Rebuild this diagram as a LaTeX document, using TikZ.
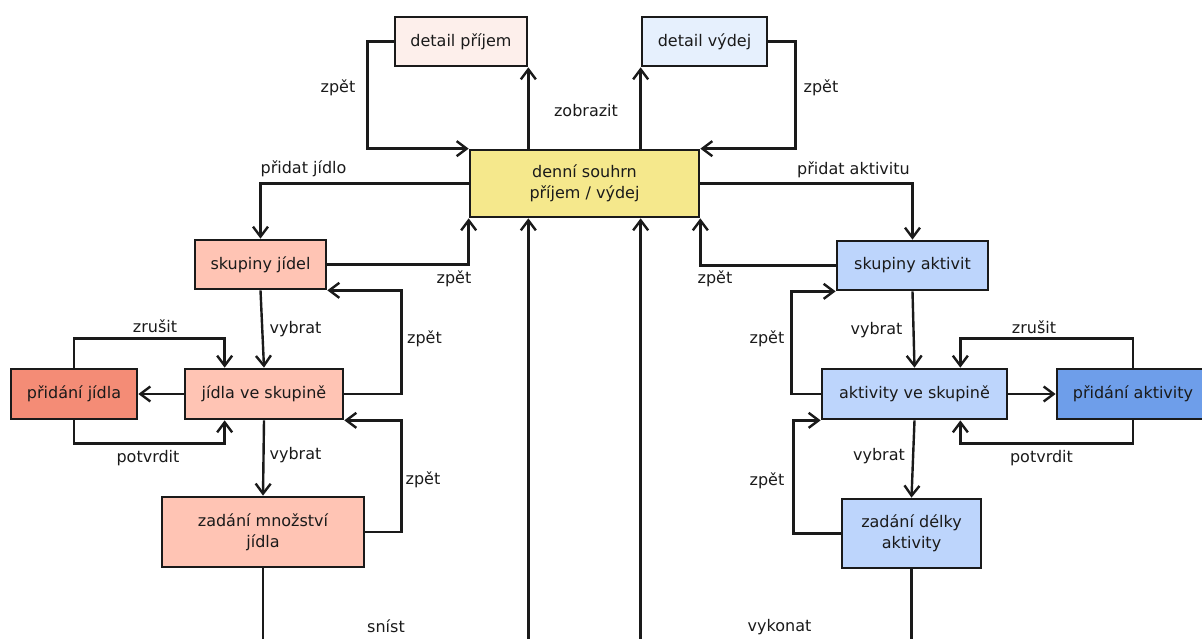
\documentclass[tikz,border=0pt]{standalone}
\usepackage{fontspec}
\setmainfont{DejaVu Sans}
\usetikzlibrary{arrows.meta,calc}
\definecolor{cdetP}{HTML}{FDEFEB}
\definecolor{cdetV}{HTML}{E6F0FD}
\definecolor{cden}{HTML}{F5E88C}
\definecolor{csal}{HTML}{FFC4B4}
\definecolor{csalD}{HTML}{F48C76}
\definecolor{cblu}{HTML}{BDD5FC}
\definecolor{cbluD}{HTML}{6E9EEA}
\definecolor{cline}{HTML}{1A1A1A}
\tikzset{
  box/.style={draw=cline, line width=2.7pt, inner sep=0pt, align=center,
    font=\fontsize{16}{21}\selectfont, text=cline},
  arr/.style={draw=cline, line width=2.4pt, -{Straight Barb[length=10pt,width=15pt,line width=2.4pt]}},
  ln/.style={draw=cline, line width=2.4pt},
  lbl/.style={anchor=base, inner sep=0pt, font=\fontsize{16}{21}\selectfont, text=cline},
}
\begin{document}
\begin{tikzpicture}[x=1pt,y=-1pt]
\useasboundingbox (0,0) rectangle (1202,639);
\clip (0,0) rectangle (1202,639);
% nodes
\node[box, fill=cdetP, minimum width=132pt, minimum height=49pt] (detP) at (461,41.5) {detail příjem};
\node[box, fill=cdetV, minimum width=125pt, minimum height=49pt] (detV) at (704.5,41.5) {detail výdej};
\node[box, fill=cden, minimum width=229pt, minimum height=67pt] (den) at (584.5,183.5) {denní souhrn\\příjem / výdej};
\node[box, fill=csal, minimum width=131pt, minimum height=49pt] (skJ) at (260.5,264.5) {skupiny jídel};
\node[box, fill=csal, minimum width=158pt, minimum height=50pt] (jid) at (264,394) {jídla ve skupině};
\node[box, fill=csalD, minimum width=126pt, minimum height=50pt] (prJ) at (74,394) {přidání jídla};
\node[box, fill=csal, minimum width=202pt, minimum height=70pt] (zadJ) at (263,532) {zadání množství\\jídla};
\node[box, fill=cblu, minimum width=151pt, minimum height=49pt] (skA) at (912.5,265.5) {skupiny aktivit};
\node[box, fill=cblu, minimum width=185pt, minimum height=50pt] (akt) at (914.5,394) {aktivity ve skupině};
\node[box, fill=cbluD, minimum width=152pt, minimum height=50pt] (prA) at (1133,394) {přidání aktivity};
\node[box, fill=cblu, minimum width=139pt, minimum height=69pt] (zadA) at (911.5,533.5) {zadání délky\\aktivity};
\coordinate (bottom) at (0,645);
% top
\draw[arr] (detP.south east |- den.north) -- (detP.south east);
\draw[arr] (detV.south west |- den.north) -- (detV.south west);
\draw[arr] (detP.west) -- ++(-26,0) |- (den.north west);
\draw[arr] (detV.east) -- ++(27,0) |- (den.north east);
% food side
\draw[arr] (den.west) -| (skJ.north);
\draw[arr] (skJ.east) -| (den.south west);
\draw[arr] (skJ.south) -- (jid.north);
\draw[arr] (jid.east) -- ++(57,0) |- (skJ.south east);
\draw[arr] (jid.west) -- (prJ.east);
\draw[arr] (prJ.north) -- ++(0,-29) -| ([xshift=41pt]jid.north west);
\draw[arr] (prJ.south) -- ++(0,23) -| ([xshift=41pt]jid.south west);
\draw[arr] (jid.south) -- (zadJ.north);
\draw[arr] (zadJ.east) -- ++(36,0) |- (jid.south east);
\draw[ln] (zadJ.south) -- (zadJ.south |- bottom);
% returns into summary
\draw[arr] (detP.east |- bottom) -- (detP.east |- den.south);
\draw[arr] (detV.west |- bottom) -- (detV.west |- den.south);
% activity side
\draw[arr] (den.east) -| (skA.north);
\draw[arr] (skA.west) -| (den.south east);
\draw[arr] (skA.south) -- (akt.north);
\draw[arr] (akt.west) -- ++(-29,0) |- (skA.south west);
\draw[arr] (akt.east) -- (prA.west);
\draw[arr] (prA.north) -- ++(0,-29) -| ([xshift=-48pt]akt.north east);
\draw[arr] (prA.south) -- ++(0,23) -| ([xshift=-48pt]akt.south east);
\draw[arr] (akt.south) -- (zadA.north);
\draw[arr] (zadA.west) -- ++(-47,0) |- (akt.south west);
\draw[ln] (zadA.south) -- (zadA.south |- bottom);
% labels
\node[lbl] (l1) at (586,117) {zobrazit};
\node[lbl] (l2) at (338,93) {zpět};
\node[lbl] (l3) at (821,93) {zpět};
\node[lbl] (l4) at (303.5,174) {přidat jídlo};
\node[lbl] (l5) at (853.5,175) {přidat aktivitu};
\node[lbl] (l6) at (454,283) {zpět};
\node[lbl] (l7) at (295.5,333) {vybrat};
\node[lbl] (l8) at (424.5,343) {zpět};
\node[lbl] (l9) at (155,332) {zrušit};
\node[lbl] (l10) at (148,462) {potvrdit};
\node[lbl] (l11) at (295.5,459) {vybrat};
\node[lbl] (l12) at (423,484) {zpět};
\node[lbl] (l13) at (386,632) {sníst};
\node[lbl] (l14) at (715,283) {zpět};
\node[lbl] (l15) at (767,343) {zpět};
\node[lbl] (l16) at (876.5,334) {vybrat};
\node[lbl] (l17) at (1034,333) {zrušit};
\node[lbl] (l18) at (1041.5,462) {potvrdit};
\node[lbl] (l19) at (879,460) {vybrat};
\node[lbl] (l20) at (767,485) {zpět};
\node[lbl] (l21) at (779.5,631) {vykonat};
\end{tikzpicture}
\end{document}
